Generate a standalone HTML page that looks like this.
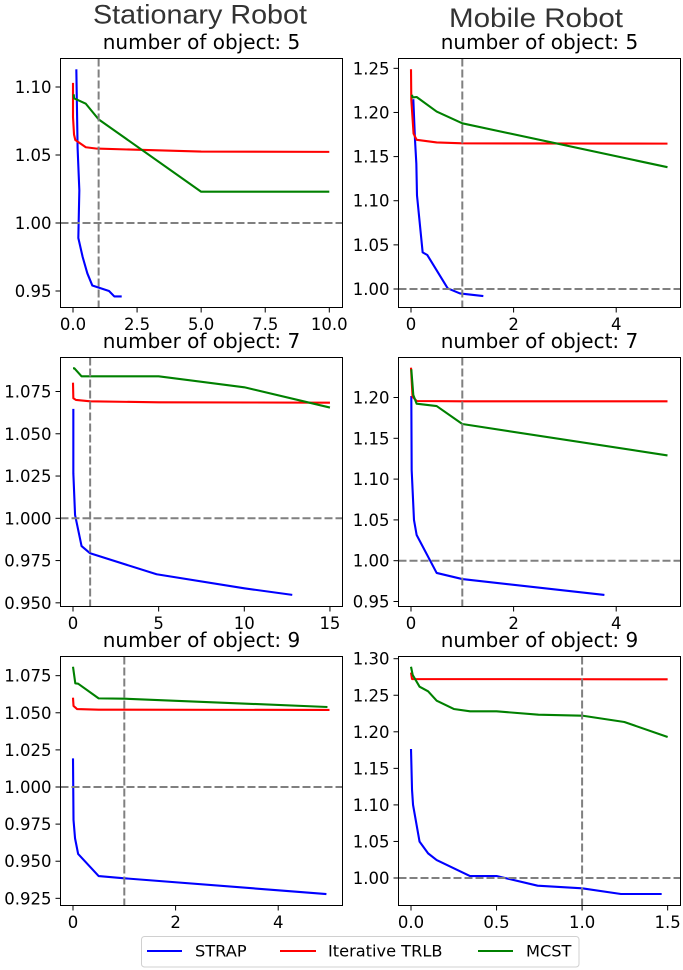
<!DOCTYPE html>
<html>
<head>
<meta charset="utf-8">
<title>Stationary and Mobile Robot charts</title>
<style>
html,body{margin:0;padding:0;background:#fff;width:683px;height:970px;overflow:hidden}
svg{display:block}
text{font-family:"DejaVu Sans","Liberation Sans",sans-serif;fill:#000}
.header{font-family:"Liberation Sans","DejaVu Sans",sans-serif;fill:#333;font-size:27px}
</style>
</head>
<body>
<svg id="fig" xmlns="http://www.w3.org/2000/svg" width="683" height="970" viewBox="0 0 683 970">
<text class="header" x="93" y="23.5" textLength="214" lengthAdjust="spacingAndGlyphs">Stationary Robot</text>
<text class="header" x="449" y="27" textLength="174" lengthAdjust="spacingAndGlyphs">Mobile Robot</text>
<g>
<rect x="141.5" y="936.5" width="437.5" height="30.5" rx="3" fill="#fff" stroke="#d0d0d0" stroke-width="1"/>
<line x1="147" y1="951" x2="182" y2="951" stroke="#0000ff" stroke-width="2"/>
<text x="195" y="956.5" font-size="16.2">STRAP</text>
<line x1="280" y1="951" x2="316" y2="951" stroke="#ff0000" stroke-width="2"/>
<text x="328" y="956.5" font-size="16.2">Iterative TRLB</text>
<line x1="478" y1="951" x2="513" y2="951" stroke="#008000" stroke-width="2"/>
<text x="526" y="956.5" font-size="16.2">MCST</text>
</g>
</svg>
<script>
// Panel 1: stationary, 5 objects
const s5StrapX = [0.13, 0.18, 0.247, 0.208, 0.377, 0.559, 0.754, 1.405, 1.613, 1.9];
const s5StrapY = [1.113, 1.055, 1.024, 0.989, 0.975, 0.963, 0.954, 0.95, 0.946, 0.946];
const s5TrlbX = [0, 0, 0.04, 0.09, 0.5, 0.93, 5, 10];
const s5TrlbY = [1.103, 1.078, 1.065, 1.061, 1.0557, 1.0547, 1.0525, 1.0523];
const s5McstX = [0.03, 0.04, 0.5, 1, 5, 10];
const s5McstY = [1.0946, 1.0917, 1.0877, 1.0762, 1.023, 1.023];
const s5XTicks = ['0.0', '2.5', '5.0', '7.5', '10.0'];
const s5YTicks = ['0.95', '1.00', '1.05', '1.10'];
// Panel 2: mobile, 5 objects
const m5StrapX = [0.045, 0.078, 0.104, 0.117, 0.227, 0.318, 0.715, 0.955, 1.41];
const m5StrapY = [1.215, 1.169, 1.142, 1.106, 1.0415, 1.0385, 1.0008, 0.995, 0.992];
const m5TrlbX = [0, 0.006, 0.05, 0.11, 0.5, 1, 5];
const m5TrlbY = [1.249, 1.214, 1.176, 1.169, 1.166, 1.165, 1.1647];
const m5McstX = [0.02, 0.03, 0.11, 0.5, 1, 5];
const m5McstY = [1.22, 1.217, 1.2175, 1.201, 1.1877, 1.138];
const m5XTicks = ['0', '2', '4'];
const m5YTicks = ['1.00', '1.05', '1.10', '1.15', '1.20', '1.25'];
// Panel 3: stationary, 7 objects
const s7StrapX = [0.02, 0.02, 0.12, 0.5, 1, 4.88, 10, 12.8];
const s7StrapY = [1.0647, 1.0266, 1.002, 0.9836, 0.9793, 0.9669, 0.9586, 0.9547];
const s7TrlbX = [0, 0.02, 0.18, 1, 5, 15];
const s7TrlbY = [1.0802, 1.071, 1.07, 1.0692, 1.0686, 1.0684];
const s7McstX = [0, 0.08, 0.5, 5, 10, 15];
const s7McstY = [1.0887, 1.0887, 1.084, 1.084, 1.0775, 1.0655];
const s7XTicks = ['0', '5', '10', '15'];
const s7YTicks = ['0.950', '0.975', '1.000', '1.025', '1.050', '1.075'];
// Panel 4: mobile, 7 objects
const m7StrapX = [0.006, 0.013, 0.058, 0.11, 0.5, 1, 3.77];
const m7StrapY = [1.2018, 1.111, 1.05, 1.0315, 0.985, 0.9775, 0.958];
const m7TrlbX = [0, 0.03, 0.11, 1, 5];
const m7TrlbY = [1.2365, 1.201, 1.1957, 1.1953, 1.1953];
const m7McstX = [0.006, 0.045, 0.11, 0.5, 1, 5];
const m7McstY = [1.2345, 1.203, 1.1924, 1.1895, 1.1675, 1.129];
const m7XTicks = ['0', '2', '4'];
const m7YTicks = ['0.95', '1.00', '1.05', '1.10', '1.15', '1.20'];
// Panel 5: stationary, 9 objects
const s9StrapX = [0, 0.01, 0.04, 0.1, 0.5, 1, 4.94];
const s9StrapY = [1.0193, 0.9778, 0.9654, 0.9549, 0.94, 0.9385, 0.9279];
const s9TrlbX = [0, 0.01, 0.08, 0.5, 5];
const s9TrlbY = [1.0602, 1.0546, 1.0525, 1.0521, 1.0519];
const s9McstX = [0, 0.045, 0.1, 0.5, 1, 4.96];
const s9McstY = [1.081, 1.0698, 1.0696, 1.0597, 1.0595, 1.0539];
const s9XTicks = ['0', '2', '4'];
const s9YTicks = ['0.925', '0.950', '0.975', '1.000', '1.025', '1.050', '1.075'];
// Panel 6: mobile, 9 objects
const m9StrapX = [0, 0.006, 0.012, 0.05, 0.1, 0.15, 0.345, 0.5, 0.74, 1, 1.227, 1.465];
const m9StrapY = [1.1765, 1.1204, 1.0999, 1.0497, 1.0337, 1.0246, 1.0027, 1.0027, 0.9895, 0.9859, 0.9781, 0.9781];
const m9TrlbX = [0, 0.006, 1.5];
const m9TrlbY = [1.281, 1.2722, 1.2718];
const m9McstX = [0, 0.01, 0.05, 0.1, 0.15, 0.25, 0.345, 0.5, 0.745, 1, 1.247, 1.5];
const m9McstY = [1.289, 1.2777, 1.2617, 1.2554, 1.2426, 1.2312, 1.228, 1.228, 1.2234, 1.2221, 1.2134, 1.1929];
const m9XTicks = ['0.0', '0.5', '1.0', '1.5'];
const m9YTicks = ['1.00', '1.05', '1.10', '1.15', '1.20', '1.25', '1.30'];

const panels = [
  {id:'stationary-5', title:'number of object: 5', left:60.5, right:342.5, top:58.5, bottom:307.5, x0:73, xs:25.63, y1:223, ys:1360,
   strap:[s5StrapX,s5StrapY], trlb:[s5TrlbX,s5TrlbY], mcst:[s5McstX,s5McstY], xt:s5XTicks, yt:s5YTicks},
  {id:'mobile-5', title:'number of object: 5', left:398.5, right:680.5, top:58.5, bottom:307.5, x0:411, xs:51.3, y1:289, ys:882.7,
   strap:[m5StrapX,m5StrapY], trlb:[m5TrlbX,m5TrlbY], mcst:[m5McstX,m5McstY], xt:m5XTicks, yt:m5YTicks},
  {id:'stationary-7', title:'number of object: 7', left:60.5, right:342.5, top:357.5, bottom:606.5, x0:73, xs:17.13, y1:518.3, ys:1690.6,
   strap:[s7StrapX,s7StrapY], trlb:[s7TrlbX,s7TrlbY], mcst:[s7McstX,s7McstY], xt:s7XTicks, yt:s7YTicks},
  {id:'mobile-7', title:'number of object: 7', left:398.5, right:680.5, top:357.5, bottom:606.5, x0:411, xs:51.3, y1:560.7, ys:816,
   strap:[m7StrapX,m7StrapY], trlb:[m7TrlbX,m7TrlbY], mcst:[m7McstX,m7McstY], xt:m7XTicks, yt:m7YTicks},
  {id:'stationary-9', title:'number of object: 9', left:60.5, right:342.5, top:656.5, bottom:905.5, x0:73, xs:51.3, y1:787, ys:1484.4,
   strap:[s9StrapX,s9StrapY], trlb:[s9TrlbX,s9TrlbY], mcst:[s9McstX,s9McstY], xt:s9XTicks, yt:s9YTicks},
  {id:'mobile-9', title:'number of object: 9', left:398.5, right:680.5, top:656.5, bottom:905.5, x0:411, xs:171.1, y1:878, ys:731,
   strap:[m9StrapX,m9StrapY], trlb:[m9TrlbX,m9TrlbY], mcst:[m9McstX,m9McstY], xt:m9XTicks, yt:m9YTicks}
];

const NS = 'http://www.w3.org/2000/svg';
const fig = document.getElementById('fig');

function make(tag, parent, attrs) {
  const el = document.createElementNS(NS, tag);
  for (const k in attrs) el.setAttribute(k, attrs[k]);
  parent.appendChild(el);
  return el;
}

panels.forEach(function (p) {
  const xScale = function (v) { return p.x0 + v * p.xs; };
  const yScale = function (v) { return p.y1 - (v - 1) * p.ys; };

  const g = make('g', fig, {});
  
  

  const title = make('text', g, {x:(p.left + p.right) / 2, y:p.top - 9.5, 'font-size':20, 'text-anchor':'middle'});
  title.textContent = p.title;
  
  

  const clip = make('clipPath', g, {id:'clip-' + p.id});
  make('rect', clip, {x:p.left, y:p.top, width:p.right - p.left, height:p.bottom - p.top});

  const series = [['strap', '#0000ff'], ['trlb', '#ff0000'], ['mcst', '#008000']];
  series.forEach(function (s) {
    const xs = p[s[0]][0];
    const ys = p[s[0]][1];
    const pts = xs.map(function (x, i) { return xScale(x).toFixed(2) + ',' + yScale(ys[i]).toFixed(2); }).join(' ');
    const line = make('polyline', g, {points:pts, fill:'none', stroke:s[1], 'stroke-width':2.1, 'stroke-linejoin':'round', 'clip-path':'url(#clip-' + p.id + ')'});
    
    
  });

  const hRef = make('line', g, {x1:p.left, x2:p.right, y1:yScale(1), y2:yScale(1), stroke:'#808080', 'stroke-width':2, 'stroke-dasharray':'8 3'});
  
  

  const vRef = make('line', g, {x1:xScale(1), x2:xScale(1), y1:p.top, y2:p.bottom, stroke:'#808080', 'stroke-width':2, 'stroke-dasharray':'8 3'});
  
  

  const frame = make('rect', g, {x:p.left, y:p.top, width:p.right - p.left, height:p.bottom - p.top, fill:'none', stroke:'#000', 'stroke-width':1});
  
  

  p.xt.forEach(function (label) {
    const px = xScale(parseFloat(label));
    const tick = make('line', g, {x1:px, x2:px, y1:p.bottom, y2:p.bottom + 5, stroke:'#000', 'stroke-width':1});
    
    
    const t = make('text', g, {x:px, y:p.bottom + 22.5, 'font-size':16.5, 'text-anchor':'middle'});
    t.textContent = label;
    
    
  });

  p.yt.forEach(function (label) {
    const py = yScale(parseFloat(label));
    const tick = make('line', g, {x1:p.left - 5, x2:p.left, y1:py, y2:py, stroke:'#000', 'stroke-width':1});
    
    
    const t = make('text', g, {x:p.left - 9, y:py + 6, 'font-size':16.5, 'text-anchor':'end'});
    t.textContent = label;
    
    
  });
});
</script>
</body>
</html>
